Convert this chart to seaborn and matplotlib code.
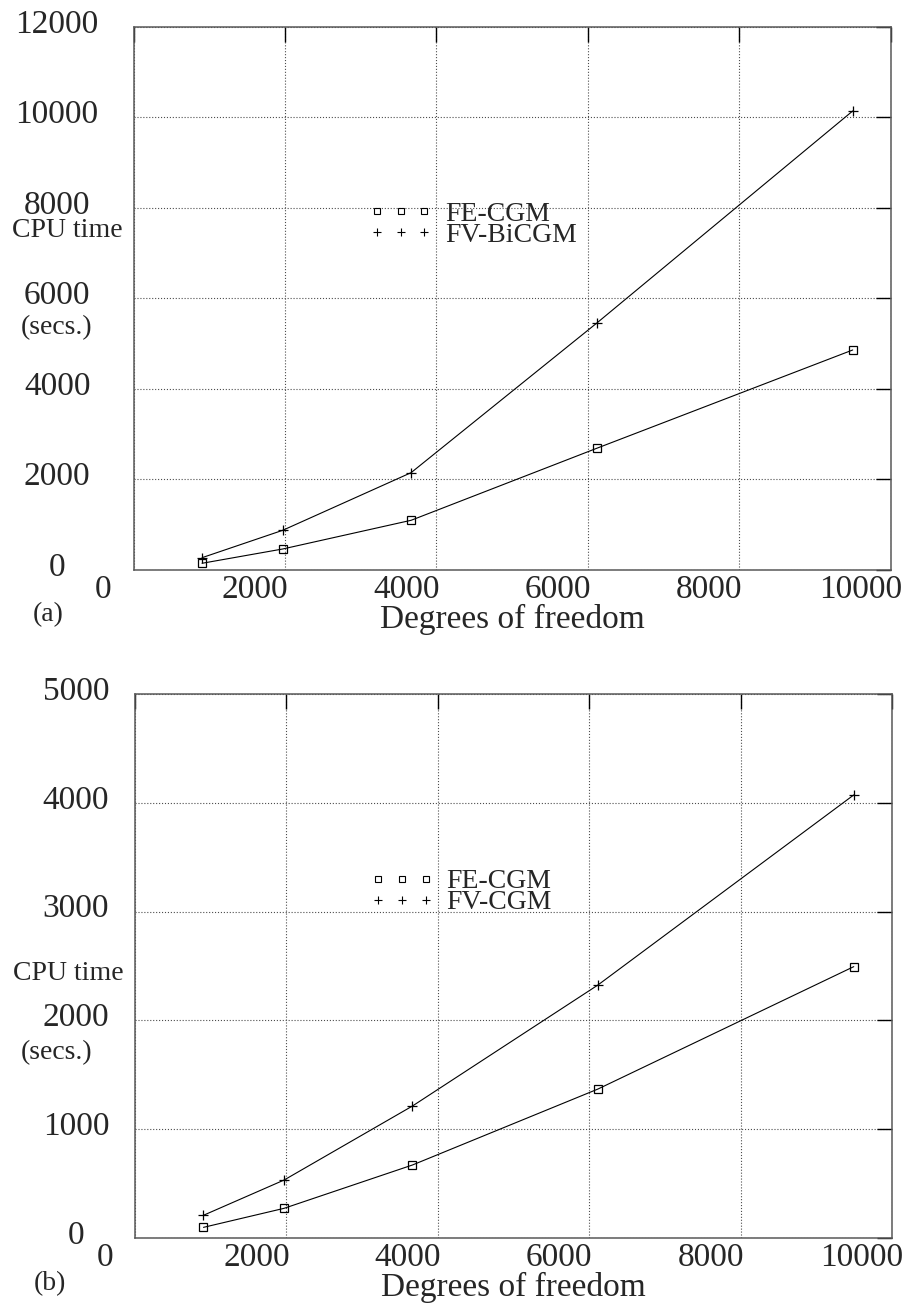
import matplotlib
matplotlib.use('Agg')
import matplotlib.pyplot as plt
import matplotlib.transforms as mtrans
from matplotlib.lines import Line2D
import seaborn as sns

# degrees of freedom (same meshes in both panels)
dof = [905, 1970, 3665, 6115, 9495]

# panel (a): CPU time in seconds
fe_cgm_a = [148, 464, 1098, 2689, 4862]
fv_bicgm_a = [272, 877, 2151, 5455, 10144]

# panel (b): CPU time in seconds
fe_cgm_b = [98, 273, 671, 1369, 2494]
fv_cgm_b = [209, 533, 1213, 2325, 4072]

x_ticks = [0, 2000, 4000, 6000, 8000, 10000]
y_ticks_a = [0, 2000, 4000, 6000, 8000, 10000, 12000]
y_ticks_b = [0, 1000, 2000, 3000, 4000, 5000]

sns.set_style('white')
plt.rcParams['font.family'] = ['Liberation Serif', 'DejaVu Serif']


def draw_panel(fig, ax, fe, fv, fv_name, yticks, tag, ypad, cpu_pos, secs_pos):
    for vals, mk, ms in [(fe, 's', 5.8), (fv, '+', 6.5)]:
        sns.lineplot(x=dof, y=vals, ax=ax, color='black', lw=0.8,
                     marker=mk, markersize=ms, markerfacecolor='none',
                     markeredgecolor='black', markeredgewidth=0.9)

    ax.set_xlim(x_ticks[0], x_ticks[-1])
    ax.set_ylim(yticks[0], yticks[-1])
    ax.set_xticks(x_ticks)
    ax.set_yticks(yticks)
    ax.set_xticklabels([str(t) for t in x_ticks])
    ax.set_yticklabels([str(t) for t in yticks])
    ax.grid(True, ls=':', color='0.3', lw=0.8)
    ax.tick_params(direction='in', length=11, width=1, top=True, right=True,
                   labelsize=24, color='black')
    ax.tick_params(axis='y', pad=ypad)
    ax.tick_params(axis='x', pad=3)
    for sp in ax.spines.values():
        sp.set_color('0.35')
        sp.set_linewidth(1.1)

    dx = mtrans.ScaledTranslation(-0.30, 0, fig.dpi_scale_trans)
    for lab in ax.get_xticklabels():
        lab.set_ha('center')
        lab.set_transform(lab.get_transform() + dx)
    dy = mtrans.ScaledTranslation(0, 0.06, fig.dpi_scale_trans)
    for lab in ax.get_yticklabels():
        lab.set_ha('center')
        lab.set_transform(lab.get_transform() + dy)

    ax.set_xlabel('Degrees of freedom', fontsize=24)
    ax.xaxis.label.set_va('center')
    ax.xaxis.set_label_coords(0.5, -0.091)
    ax.set_ylabel('')

    ax.text(cpu_pos[0], cpu_pos[1], 'CPU time', transform=ax.transAxes,
            ha='center', va='center', fontsize=20)
    ax.text(secs_pos[0], secs_pos[1], '(secs.)', transform=ax.transAxes,
            ha='center', va='center', fontsize=20)
    ax.text(-0.113, -0.083, tag, transform=ax.transAxes,
            ha='center', va='center', fontsize=20)

    handles = [
        Line2D([], [], ls='none', marker='s', ms=5, mfc='none', mec='black', mew=0.8),
        Line2D([], [], ls='none', marker='+', ms=5.5, mec='black', mew=0.8),
    ]
    ax.legend(handles, ['FE-CGM', fv_name], loc='center left',
              bbox_to_anchor=(0.3105, 0.636), numpoints=3, handlelength=2.3,
              handletextpad=0.45, labelspacing=-0.16, frameon=False,
              fontsize=20, borderpad=0, borderaxespad=0)


fig = plt.figure(figsize=(9.17, 13.04), dpi=100)
ax_a = fig.add_axes([0.1456, 0.5629, 0.826, 0.4164])
ax_b = fig.add_axes([0.1472, 0.0506, 0.8255, 0.4172])

draw_panel(fig, ax_a, fe_cgm_a, fv_bicgm_a, 'FV-BiCGM', y_ticks_a, '(a)', 55,
           (-0.088, 0.626), (-0.102, 0.446))
draw_panel(fig, ax_b, fe_cgm_b, fv_cgm_b, 'FV-CGM', y_ticks_b, '(b)', 42.5,
           (-0.0885, 0.487), (-0.104, 0.340))

fig.savefig('out.png', dpi=100)
